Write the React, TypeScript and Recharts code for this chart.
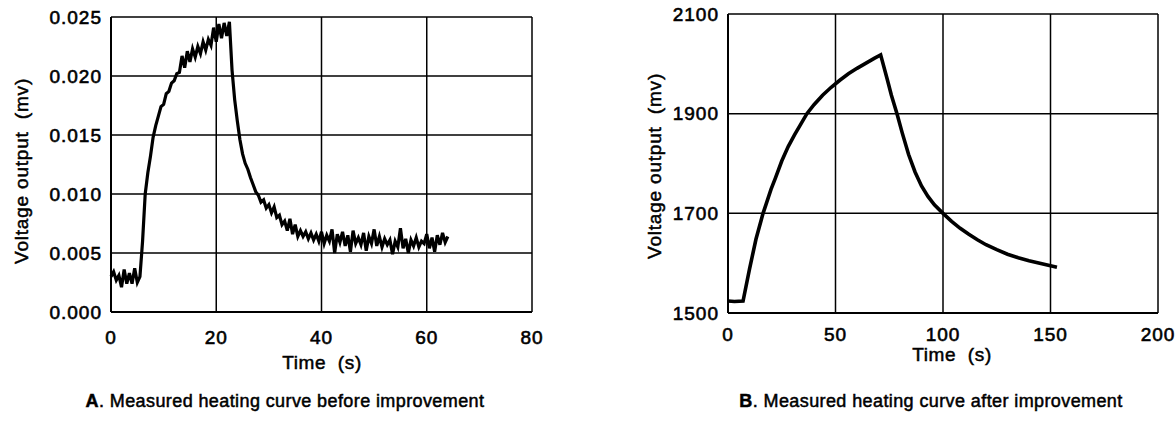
import React from "react";
import { LineChart, Line, XAxis, YAxis, CartesianGrid } from "recharts";

// A: before improvement (sampled every 0.5 s)
const timeA = [
  0, 0.5, 1, 1.5, 2, 2.5, 3, 3.5, 4, 4.5,
  5, 5.5, 6, 6.5, 7, 7.5, 8, 8.5, 9, 9.5,
  10, 10.5, 11, 11.5, 12, 12.5, 13, 13.5, 14, 14.5,
  15, 15.5, 16, 16.5, 17, 17.5, 18, 18.5, 19, 19.5,
  20, 20.5, 21, 21.5, 22, 22.5, 23, 23.5, 24, 24.5,
  25, 25.5, 26, 26.5, 27, 27.5, 28, 28.5, 29, 29.5,
  30, 30.5, 31, 31.5, 32, 32.5, 33, 33.5, 34, 34.5,
  35, 35.5, 36, 36.5, 37, 37.5, 38, 38.5, 39, 39.5,
  40, 40.5, 41, 41.5, 42, 42.5, 43, 43.5, 44, 44.5,
  45, 45.5, 46, 46.5, 47, 47.5, 48, 48.5, 49, 49.5,
  50, 50.5, 51, 51.5, 52, 52.5, 53, 53.5, 54, 54.5,
  55, 55.5, 56, 56.5, 57, 57.5, 58, 58.5, 59, 59.5,
  60, 60.5, 61, 61.5, 62, 62.5, 63, 63.5, 64,
];
const voltageA = [
  0.0030, 0.0034, 0.0027, 0.0031, 0.0021, 0.0036, 0.0024, 0.0033, 0.0024, 0.0037,
  0.0025, 0.0030, 0.0060, 0.0100, 0.0118, 0.0132, 0.0148, 0.0158, 0.0166, 0.0174,
  0.0176, 0.0185, 0.0187, 0.0194, 0.0196, 0.0202, 0.0203, 0.0217, 0.0207, 0.0221,
  0.0212, 0.0223, 0.0216, 0.0225, 0.0219, 0.0229, 0.0222, 0.0231, 0.0226, 0.0241,
  0.0229, 0.0244, 0.0232, 0.0245, 0.0234, 0.0246, 0.0205, 0.0180, 0.0162, 0.0146,
  0.0134, 0.0126, 0.0121, 0.0114, 0.0108, 0.0102, 0.0099, 0.0093, 0.0095, 0.0088,
  0.0091, 0.0084, 0.0089, 0.0080, 0.0082, 0.0074, 0.0077, 0.0069, 0.0079, 0.0066,
  0.0074, 0.0064, 0.0069, 0.0064, 0.0068, 0.0062, 0.0067, 0.0061, 0.0066, 0.0060,
  0.0068, 0.0058, 0.0065, 0.0060, 0.0070, 0.0050, 0.0066, 0.0059, 0.0068, 0.0056,
  0.0065, 0.0051, 0.0069, 0.0058, 0.0063, 0.0057, 0.0067, 0.0052, 0.0064, 0.0058,
  0.0070, 0.0056, 0.0064, 0.0055, 0.0062, 0.0057, 0.0061, 0.0049, 0.0060, 0.0055,
  0.0071, 0.0054, 0.0062, 0.0050, 0.0061, 0.0056, 0.0063, 0.0055, 0.0060, 0.0058,
  0.0066, 0.0054, 0.0063, 0.0051, 0.0065, 0.0057, 0.0067, 0.0059, 0.0064,
];

// B: after improvement
const timeB = [
  0, 3, 7, 10, 13, 16.3, 18, 20, 22, 25, 28, 31, 34, 36.7, 40, 44, 48, 52, 56, 60,
  64, 68, 71, 74, 76, 78.6, 81, 84, 87, 90, 93, 96, 100, 104, 108, 112, 116, 120,
  125, 130, 135, 140, 145, 150, 153,
];
const voltageB = [
  1524, 1523, 1524, 1588, 1648, 1700, 1722, 1748, 1770, 1805, 1834, 1858, 1880, 1900, 1918, 1937, 1953, 1967, 1980, 1991,
  2001, 2011, 2018, 1970, 1937, 1900, 1862, 1818, 1783, 1755, 1734, 1717, 1700, 1684, 1670, 1658, 1647, 1637,
  1627, 1618, 1611, 1605, 1600, 1595, 1592,
];

const ticksAX = [0, 20, 40, 60, 80];
const ticksAY = [0, 0.005, 0.01, 0.015, 0.02, 0.025];
const ticksBX = [0, 50, 100, 150, 200];
const ticksBY = [1500, 1700, 1900, 2100];

const FONT = "'Liberation Sans', Arial, Helvetica, sans-serif";

const dataA = timeA.map((t, i) => ({ t, v: voltageA[i] }));
const dataB = timeB.map((t, i) => ({ t, v: voltageB[i] }));

const YTick = ({ x, y, payload, fmt }: any) => (
  <text
    x={x - 9}
    y={y}
    textAnchor="end"
    dominantBaseline="central"
    fontFamily={FONT}
    fontSize={19}
    fill="#000"
    stroke="#000"
    strokeWidth={0.6}
    style={{ letterSpacing: "1px" }}
  >
    {fmt(payload.value)}
  </text>
);

const XTick = ({ x, y, payload, dy }: any) => (
  <text
    x={x}
    y={y + dy}
    textAnchor="middle"
    dominantBaseline="central"
    fontFamily={FONT}
    fontSize={19}
    fill="#000"
    stroke="#000"
    strokeWidth={0.6}
    style={{ letterSpacing: "1px" }}
  >
    {payload.value}
  </text>
);

const textStyle: React.CSSProperties = {
  position: "absolute",
  fontFamily: FONT,
  color: "#000",
  whiteSpace: "pre",
  WebkitTextStroke: "0.5px #000",
  letterSpacing: "0.4px",
};

function Centered({ x, y, rotate, size, spacing, children }: any) {
  return (
    <div
      style={{
        ...textStyle,
        fontSize: size || 18,
        letterSpacing: spacing || "0.4px",
        left: x,
        top: y,
        transform: `translate(-50%, -50%)${rotate ? " rotate(-90deg)" : ""}`,
      }}
    >
      {children}
    </div>
  );
}

export default function App() {
  return (
    <div style={{ position: "absolute", left: 0, top: 0, width: 1176, height: 422, background: "#fff" }}>
      <div style={{ position: "absolute", left: 0, top: 0 }}>
        <LineChart width={560} height={422} data={dataA} margin={{ top: 17, right: 28, bottom: 70, left: 0 }}>
          <CartesianGrid stroke="#000" strokeWidth={1.5} />
          <XAxis
            dataKey="t"
            type="number"
            domain={[0, 80]}
            ticks={ticksAX}
            interval={0}
            height={40}
            tickLine={false}
            tickSize={0}
            tickMargin={0}
            axisLine={{ stroke: "#000", strokeWidth: 2 }}
            tick={<XTick dy={25} />}
          />
          <YAxis
            type="number"
            domain={[0, 0.025]}
            ticks={ticksAY}
            interval={0}
            width={111}
            tickLine={false}
            tickSize={0}
            tickMargin={0}
            axisLine={{ stroke: "#000", strokeWidth: 2 }}
            tick={<YTick fmt={(v: number) => v.toFixed(3)} />}
          />
          <Line dataKey="v" type="linear" stroke="#000" strokeWidth={3.2} dot={false} isAnimationActive={false} />
        </LineChart>
      </div>
      <div style={{ position: "absolute", left: 600, top: 0 }}>
        <LineChart width={576} height={422} data={dataB} margin={{ top: 14, right: 18, bottom: 69, left: 0 }}>
          <CartesianGrid stroke="#000" strokeWidth={1.5} />
          <XAxis
            dataKey="t"
            type="number"
            domain={[0, 200]}
            ticks={ticksBX}
            interval={0}
            height={40}
            tickLine={false}
            tickSize={0}
            tickMargin={0}
            axisLine={{ stroke: "#000", strokeWidth: 2 }}
            tick={<XTick dy={21} />}
          />
          <YAxis
            type="number"
            domain={[1500, 2100]}
            ticks={ticksBY}
            interval={0}
            width={128}
            tickLine={false}
            tickSize={0}
            tickMargin={0}
            axisLine={{ stroke: "#000", strokeWidth: 2 }}
            tick={<YTick fmt={(v: number) => String(v)} />}
          />
          <Line dataKey="v" type="linear" stroke="#000" strokeWidth={3.6} dot={false} isAnimationActive={false} />
        </LineChart>
      </div>

      <Centered x={22} y={171} rotate size={19} spacing="0.8px">{"Voltage output  (mv)"}</Centered>
      <Centered x={322} y={363} size={19} spacing="0.6px">{"Time  (s)"}</Centered>
      <Centered x={285} y={401}>
        <b>A</b>. Measured heating curve before improvement
      </Centered>

      <Centered x={655} y={166} rotate size={19} spacing="0.8px">{"Voltage output  (mv)"}</Centered>
      <Centered x={952} y={355} size={19} spacing="0.6px">{"Time  (s)"}</Centered>
      <Centered x={931} y={401}>
        <b>B</b>. Measured heating curve after improvement
      </Centered>
    </div>
  );
}
